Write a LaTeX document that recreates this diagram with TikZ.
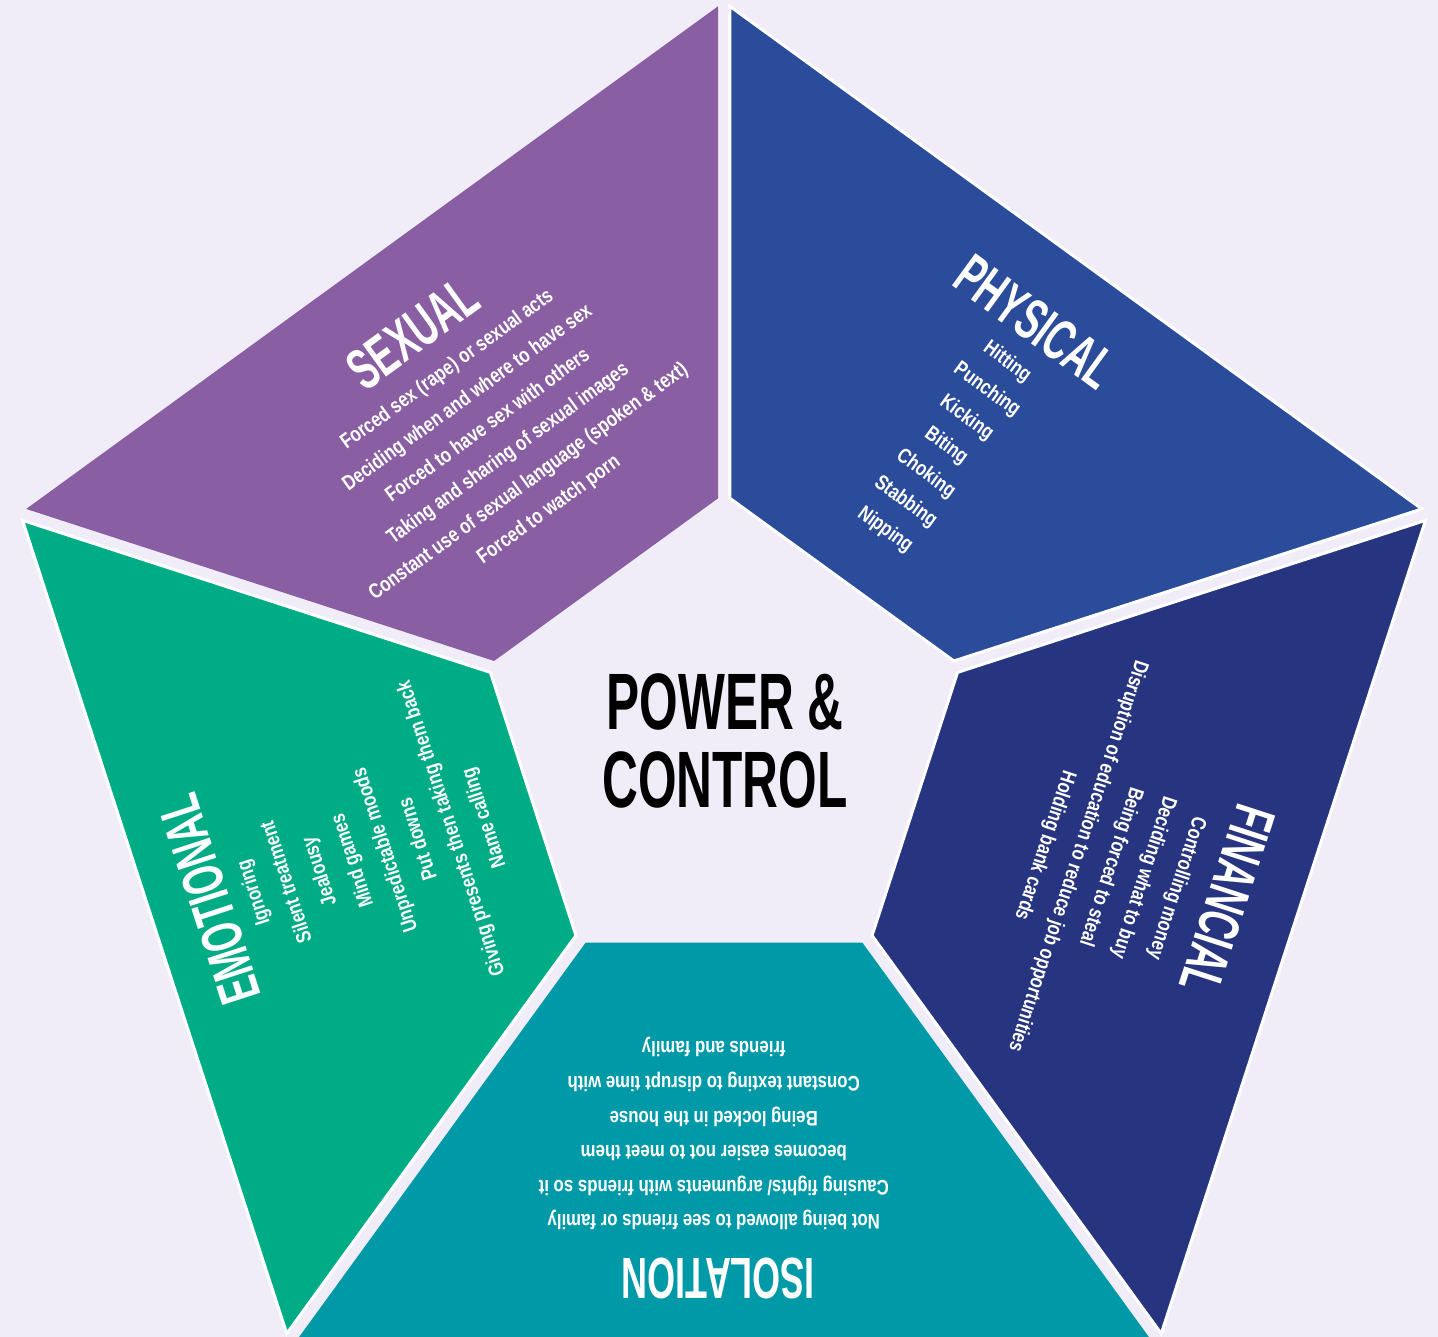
\documentclass[tikz,border=0pt]{standalone}
\usepackage{fontspec}
\usepackage{tikz}
\usetikzlibrary{calc}
\setmainfont{Liberation Sans}
\newfontfamily\headfont[FakeStretch=0.62]{Liberation Sans Bold}
\newfontfamily\itemfont[FakeStretch=0.8]{Liberation Sans Bold}
\definecolor{PCBackground}{HTML}{F0EDF8}
\definecolor{PCSexual}{HTML}{8A5EA3}
\definecolor{PCPhysical}{HTML}{2A4C9A}
\definecolor{PCFinancial}{HTML}{27347F}
\definecolor{PCIsolation}{HTML}{0099A8}
\definecolor{PCEmotional}{HTML}{00AC86}
\tikzstyle{heading} = [text=white, inner sep=0pt, font=\headfont\fontsize{58}{58}\selectfont]
\tikzstyle{items} = [text=white, inner sep=0pt, align=center, font=\itemfont\fontsize{21}{34.6}\selectfont]
\tikzstyle{centretitle} = [text=black, inner sep=0pt, align=center, font=\headfont\fontsize{80}{78}\selectfont]
\tikzstyle{sexualpiece} = [fill=PCSexual]
\tikzstyle{physicalpiece} = [fill=PCPhysical, draw=white, line width=3pt]
\tikzstyle{financialpiece} = [fill=PCFinancial, draw=white, line width=3pt]
\tikzstyle{isolationpiece} = [fill=PCIsolation]
\tikzstyle{emotionalpiece} = [fill=PCEmotional, draw=white, line width=3pt]

\begin{document}
\begin{tikzpicture}[x=1pt,y=1pt]
  \fill[PCBackground] (0,0) rectangle (1438,1337);
  \clip (0,0) rectangle (1438,1337);
  % centre of the pentagon, outer and inner radius, half gap along the edges
  \coordinate (C) at (724,595);
  \def\R{740}
  \def\r{248}
  \def\d{7.4}
  \foreach \a/\kind in {90/sexualpiece,18/physicalpiece,306/financialpiece,234/isolationpiece,162/emotionalpiece} {
    \path[\kind] ($(C)+(\a:\R)+(\a+126:\d)$) -- ($(C)+(\a+72:\R)+(\a-54:\d)$)
      -- ($(C)+(\a+72:\r)+(\a-54:\d)$) -- ($(C)+(\a:\r)+(\a+126:\d)$) -- cycle;
  }

  \node[heading, rotate=36] (sexualtitle) at ($(C)+(127.3:514)$) {SEXUAL};
  \node[items, rotate=36] (sexuallist) at ($(C)+(126.8:377)$) {Forced sex (rape) or sexual acts\\
    Deciding when and where to have sex\\ Forced to have sex with others\\
    Taking and sharing of sexual images\\ Constant use of sexual language (spoken \& text)\\
    Forced to watch porn};

  \node[heading, rotate=-36] (physicaltitle) at ($(C)+(53.4:523)$) {PHYSICAL};
  \node[items, rotate=-36] (physicallist) at ($(C)+(53.1:370)$) {Hitting\\ Punching\\ Kicking\\
    Biting\\ Choking\\ Stabbing\\ Nipping};

  \node[heading, rotate=-108] (financialtitle) at ($(C)+(-17.4:528)$) {FINANCIAL};
  \node[items, rotate=-108] (financiallist) at ($(C)+(-17.9:406)$) {Controlling money\\
    Deciding what to buy\\ Being forced to steal\\
    Disruption of education to reduce job opportunities\\ Holding bank cards};

  \node[heading, rotate=180] (isolationtitle) at ($(C)+(-90.6:537)$) {ISOLATION};
  \node[items, rotate=180] (isolationlist) at ($(C)+(-91.5:392)$) {Not being allowed to see friends or family\\
    Causing fights/ arguments with friends so it\\ becomes easier not to meet them\\
    Being locked in the house\\ Constant texting to disrupt time with\\ friends and family};

  \node[heading, rotate=108] (emotionaltitle) at ($(C)+(197:538)$) {EMOTIONAL};
  \node[items, rotate=108] (emotionallist) at ($(C)+(197.7:372)$) {Ignoring\\ Silent treatment\\
    Jealousy\\ Mind games\\ Unpredictable moods\\ Put downs\\
    Giving presents then taking them back\\ Name calling};

  \node[centretitle] (power) at (725,596) {POWER \&\\ CONTROL};
\end{tikzpicture}
\end{document}
